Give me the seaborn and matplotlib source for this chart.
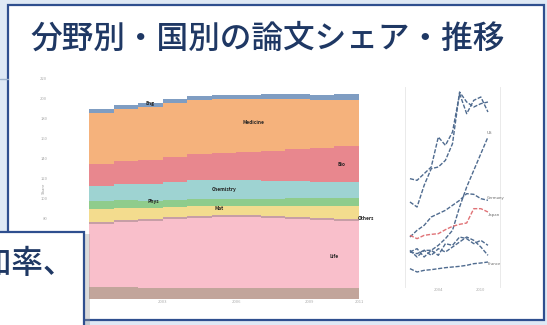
import numpy as np
import pandas as pd
import matplotlib
matplotlib.use("Agg")
import matplotlib.pyplot as plt
from matplotlib.patches import Rectangle
import seaborn as sns

# ---------------- data ----------------
years = list(range(2000, 2012))

field_names = ["Others", "Life Science", "Misc", "Materials", "Physics",
               "Chemistry", "Biology", "Medicine", "Engineering"]
brown_vals  = [12, 12, 11, 11, 11, 11, 11, 11, 11, 11, 11, 11]
pink_vals   = [63, 65, 67, 69, 70, 71, 71, 70, 69, 68, 67, 67]
mauve_vals  = [2, 2, 2, 2, 2, 2, 2, 2, 2, 2, 2, 2]
yellow_vals = [13, 12, 11, 10, 10, 9, 9, 10, 11, 12, 13, 14]
green_vals  = [8, 8, 7, 7, 7, 7, 7, 7, 8, 8, 8, 8]
teal_vals   = [15, 16, 17, 18, 19, 19, 19, 18, 17, 16, 16, 16]
red_vals    = [22, 23, 24, 25, 26, 27, 28, 30, 32, 34, 36, 38]
orange_vals = [51, 52, 53, 54, 54, 54, 53, 52, 50, 48, 46, 44]
blue_vals   = [4, 4, 4, 4, 4, 4, 4, 5, 5, 5, 6, 6]

country_names = ["A", "B", "C", "D", "Japan", "E", "F", "G"]
line_a = [325, 320, 340, 360, 450, 425, 465, 580, 520, 560, 570, 525]
line_b = [255, 240, 305, 355, 360, 380, 430, 585, 555, 540, 550, 555]
line_c = [105, 100, 110, 110, 125, 145, 170, 240, 300, 350, 400, 450]
line_d = [150, 170, 185, 210, 220, 230, 245, 260, 280, 278, 265, 260]
line_red = [155, 145, 155, 158, 160, 172, 182, 188, 192, 235, 235, 225]
line_e = [105, 115, 90, 110, 95, 130, 125, 150, 145, 130, 140, 125]
line_f = [110, 90, 110, 95, 115, 105, 120, 135, 150, 140, 120, 95]
line_g = [55, 45, 50, 52, 55, 58, 60, 62, 65, 70, 72, 75]

title = "分野別・国別の論文シェア・推移"
box_text = "増加率、"

# ---------------- figure ----------------
sns.set_theme(style="white")
plt.rcParams["font.family"] = ["Noto Sans CJK JP", "DejaVu Sans"]

W, H = 547, 325
fig = plt.figure(figsize=(W / 100, H / 100), dpi=100, facecolor="#dfe9f5")

def fx(px):
    return px / W

def fy(py):
    return 1 - py / H

# main slide frame
fig.add_artist(Rectangle((fx(8), fy(320)), fx(544) - fx(8), fy(5) - fy(320),
                         transform=fig.transFigure, facecolor="white",
                         edgecolor="#2f4f8f", lw=1.6, zorder=-1))
fig.add_artist(plt.Line2D([0, fx(8)], [fy(79), fy(79)], transform=fig.transFigure,
                          color="#9fb3cc", lw=1, zorder=-1))

fig.text(fx(30), fy(39), title, fontsize=22.8, color="#1f3864",
         va="center", ha="left", fontweight="medium")

# ---------------- stacked area chart ----------------
ax1 = fig.add_axes([fx(89), fy(299), fx(359) - fx(89), fy(78) - fy(299)])
layers = [brown_vals, pink_vals, mauve_vals, yellow_vals, green_vals,
          teal_vals, red_vals, orange_vals, blue_vals]
colors = ["#c2a59b", "#f9bfcb", "#c79ea6", "#f3dc8e", "#8fcc8c",
          "#9ed3d2", "#e8878e", "#f5b27c", "#7f9dc2"]
ax1.stackplot(years, *layers, colors=colors, labels=field_names, step="post",
              lw=0)
ax1.set_xlim(years[0], years[-1])
ax1.set_ylim(0, 221)
yt = np.arange(80, 221, 20)
ax1.set_yticks(yt)
ax1.set_yticklabels([str(v) for v in yt])
ax1.tick_params(axis="y", labelsize=3, colors="#aaaaaa", pad=30, length=0)
ax1.set_xticks([2003, 2006, 2009, 2011])
ax1.tick_params(axis="x", labelsize=3, colors="#aaaaaa", pad=1, length=0)
ax1.set_ylabel("Share", fontsize=3, color="#999999", labelpad=2)
ax1.yaxis.set_label_coords(-0.16, 0.5)
for s in ax1.spines.values():
    s.set_visible(False)

lab_kw = dict(fontsize=3.5, color="#222222", ha="center", va="center",
              fontweight="bold")
ax1.text(2002.5, 196, "Eng", **lab_kw)
ax1.text(2006.7, 176, "Medicine", **lab_kw)
ax1.text(2010.3, 135, "Bio", **lab_kw)
ax1.text(2005.5, 110, "Chemistry", **lab_kw)
ax1.text(2002.6, 97, "Phys", **lab_kw)
ax1.text(2005.3, 90, "Mat", **lab_kw)
ax1.text(2011.3, 80, "Others", **lab_kw, clip_on=False)
ax1.text(2010.0, 43, "Life", **lab_kw)

# ---------------- line chart ----------------
ax2 = fig.add_axes([fx(405), fy(287), fx(500) - fx(405), fy(87) - fy(287)])
series = [line_a, line_b, line_c, line_d, line_red, line_e, line_f, line_g]
df = pd.DataFrame({
    "year": years * len(series),
    "value": sum(series, []),
    "country": sum([[n] * len(years) for n in country_names], []),
})
pal = {n: "#4f6b8f" for n in country_names}
pal["Japan"] = "#e07276"
sns.lineplot(data=df, x="year", y="value", hue="country", style="country",
             palette=pal, dashes={n: (3, 1.2) for n in country_names},
             lw=1.0, legend=False, ax=ax2)
ax2.set_xlim(1999.3, 2012.7)
ax2.set_ylim(0, 600)
ax2.set_xlabel("")
ax2.set_ylabel("")
ax2.set_yticks([])
ax2.set_xticks([2004, 2010])
ax2.tick_params(axis="x", labelsize=3, colors="#aaaaaa", pad=1, length=0)
for k, s in ax2.spines.items():
    s.set_color("#e6e6e6")
    s.set_linewidth(0.6)
ax2.spines["top"].set_visible(False)
ax2.spines["bottom"].set_visible(False)

end_kw = dict(fontsize=3, color="#666666", ha="left", va="center")
ax2.text(2010.8, 462, "US", **end_kw)
ax2.text(2010.9, 268, "Germany", **end_kw)
ax2.text(2011.0, 215, "Japan", **end_kw)
ax2.text(2010.9, 70, "France", **end_kw)

# ---------------- overlapping text box ----------------
fig.add_artist(Rectangle((fx(84), fy(328)), fx(6), fy(234) - fy(328),
                         transform=fig.transFigure, facecolor="#999999",
                         alpha=0.35, lw=0, zorder=4))
fig.add_artist(Rectangle((fx(-5), fy(330)), fx(84) - fx(-5), fy(232) - fy(330),
                         transform=fig.transFigure, facecolor="white",
                         edgecolor="#2f4f8f", lw=1.6, zorder=5))
fig.text(fx(-52), fy(264), box_text, fontsize=22.8, color="#1f3864",
         va="center", ha="left", zorder=6, fontweight="medium")

fig.savefig("out.png", dpi=100, facecolor=fig.get_facecolor())
